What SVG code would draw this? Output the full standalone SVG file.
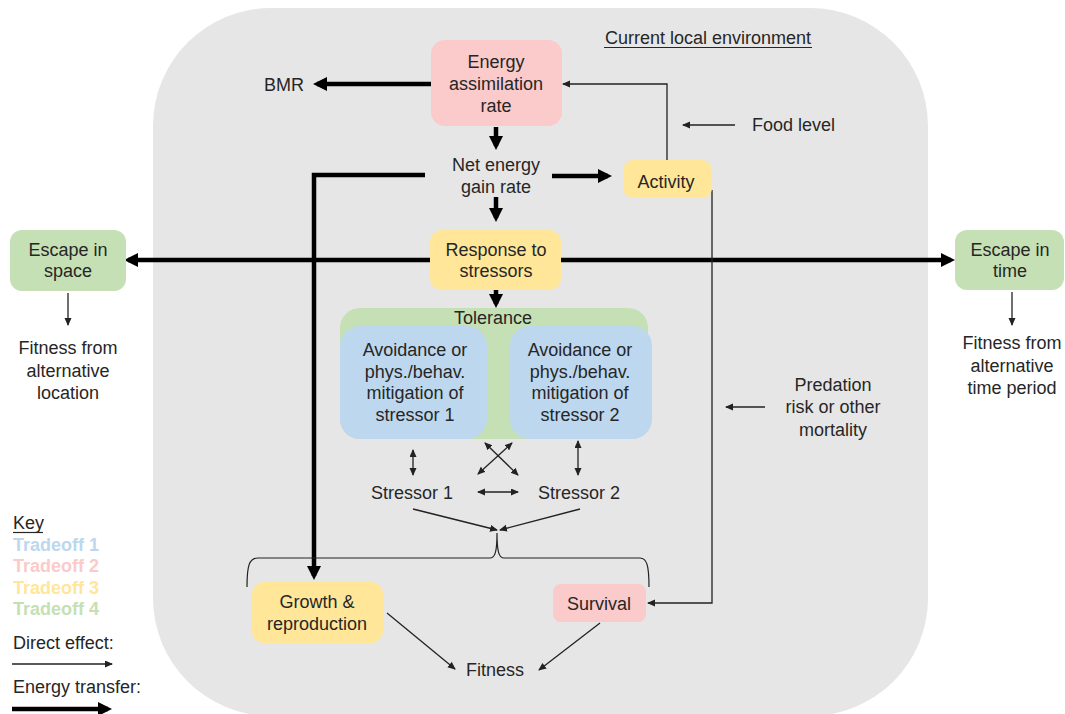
<svg xmlns="http://www.w3.org/2000/svg" width="1065" height="714" viewBox="0 0 1065 714">
<style>
text{font-family:"Liberation Sans",Arial,sans-serif;font-size:18px;fill:#262626;text-anchor:middle}
.l{text-anchor:start}
.b{font-weight:bold}
.thick{stroke:#000;stroke-width:4.5;fill:none;marker-end:url(#ah)}
.thin{stroke:#222;stroke-width:1.3;fill:none;marker-end:url(#at)}
.dbl{stroke:#222;stroke-width:1.3;fill:none;marker-end:url(#at);marker-start:url(#at)}
.pink{fill:#FBCACA}
.yel{fill:#FFE699}
.grn{fill:#C5E0B4}
.blu{fill:#BDD7EE}
</style>
<defs>
<marker id="ah" markerUnits="userSpaceOnUse" markerWidth="16" markerHeight="16" refX="10" refY="7" orient="auto-start-reverse"><path d="M0,0 L14,7 L0,14 z" fill="#000"/></marker>
<marker id="at" markerUnits="userSpaceOnUse" markerWidth="10" markerHeight="10" refX="7" refY="3.5" orient="auto-start-reverse"><path d="M0,0 L8,3.5 L0,7 z" fill="#222"/></marker>
</defs>
<rect x="153" y="8" width="775" height="708" rx="118" ry="118" fill="#E6E6E6"/>
<g id="env-label"><text x="708" y="44">Current  local environment</text><line x1="604" y1="47.5" x2="812" y2="47.5" stroke="#262626" stroke-width="1.2"/></g>

<g id="connectors">
<path class="thick" d="M431,84 L317,84"/>
<path class="thick" d="M496,127 L496,146"/>
<path class="thick" d="M552,176 L608,176"/>
<path class="thick" d="M425,175 L314,175 L314,576"/>
<path class="thick" d="M496,197 L496,218"/>
<path class="thick" d="M430,260 L128,260"/>
<path class="thick" d="M561,260 L951,260"/>
<path class="thick" d="M496,290 L496,304"/>
<path class="thin" d="M667,172 L667,84 L563,84"/>
<path class="thin" d="M735,125 L683,125"/>
<path class="thin" d="M712,190 L712,603 L648,603"/>
<path class="thin" d="M765,407 L726,407"/>
<path class="thin" d="M68,293 L68,325"/>
<path class="thin" d="M1012,292 L1012,325"/>
<path class="dbl" d="M483,388 L510,388"/>
<path class="dbl" d="M413,450 L413,475"/>
<path class="dbl" d="M578,441 L578,475"/>
<path class="dbl" d="M478,474 L512,443"/>
<path class="dbl" d="M485,443 L518,475"/>
<path class="dbl" d="M478,492 L518,492"/>
<path class="thin" d="M413,509 L497,530"/>
<path class="thin" d="M580,509 L500,530"/>
<path d="M247,587 C247,566 249,558 258,558 L490,558 C495,558 497,552 497,533 C497,552 499,558 504,558 L640,558 C647,558 649,566 649,587" stroke="#222" stroke-width="1.2" fill="none"/>
<path class="thin" d="M387,613 L455,669"/>
<path class="thin" d="M600,623 L539,670"/>
</g>

<g id="energy-assimilation"><rect class="pink" x="431" y="40" width="131" height="86" rx="14"/><text x="496" y="68">Energy</text><text x="496" y="90">assimilation</text><text x="496" y="112">rate</text></g>
<g id="bmr"><text x="284" y="91">BMR</text></g>
<g id="net-energy"><text x="496" y="171">Net energy</text><text x="496" y="193">gain rate</text></g>
<g id="activity"><rect class="yel" x="623" y="160" width="89" height="38" rx="10"/><text x="666" y="188">Activity</text></g>
<g id="food-level"><text class="l" x="752" y="131">Food level</text></g>
<g id="response"><rect class="yel" x="430" y="230" width="131" height="60" rx="12"/><text x="496" y="256">Response to</text><text x="496" y="277">stressors</text></g>
<g id="escape-space"><rect class="grn" x="10" y="230" width="116" height="61" rx="12"/><text x="68" y="256">Escape in</text><text x="68" y="277">space</text></g>
<g id="fitness-location"><text x="68" y="354">Fitness from</text><text x="68" y="377">alternative</text><text x="68" y="399">location</text></g>
<g id="escape-time"><rect class="grn" x="955" y="230" width="109" height="60" rx="12"/><text x="1010" y="256">Escape in</text><text x="1010" y="277">time</text></g>
<g id="fitness-time"><text x="1012" y="349">Fitness from</text><text x="1012" y="372">alternative</text><text x="1012" y="394">time period</text></g>
<g id="tolerance"><rect class="grn" x="340" y="308" width="308" height="131" rx="20"/><text x="493" y="324">Tolerance</text></g>
<g id="mitigation-1"><rect class="blu" x="340" y="326" width="147" height="113" rx="20"/><text x="415" y="356">Avoidance or</text><text x="415" y="378">phys./behav.</text><text x="415" y="399">mitigation of</text><text x="415" y="421">stressor 1</text></g>
<g id="mitigation-2"><rect class="blu" x="510" y="326" width="142" height="113" rx="20"/><text x="580" y="356">Avoidance or</text><text x="580" y="378">phys./behav.</text><text x="580" y="399">mitigation of</text><text x="580" y="421">stressor 2</text></g>
<g id="predation"><text x="833" y="391">Predation</text><text x="833" y="413">risk or other</text><text x="833" y="436">mortality</text></g>
<g id="stressor-1"><text x="412" y="499">Stressor 1</text></g>
<g id="stressor-2"><text x="579" y="499">Stressor 2</text></g>
<g id="growth"><rect class="yel" x="252" y="582" width="131" height="61" rx="12"/><text x="317" y="608">Growth &amp;</text><text x="317" y="630">reproduction</text></g>
<g id="survival"><rect class="pink" x="553" y="584" width="93" height="38" rx="8"/><text x="599" y="610">Survival</text></g>
<g id="fitness"><text x="495" y="676">Fitness</text></g>

<g id="key">
<text class="l" x="13" y="529">Key</text><line x1="13" y1="532.5" x2="43" y2="532.5" stroke="#262626" stroke-width="1.2"/>
<text class="l b" x="13" y="551" style="fill:#BDD7EE">Tradeoff 1</text>
<text class="l b" x="13" y="572" style="fill:#FBCACA">Tradeoff 2</text>
<text class="l b" x="13" y="594" style="fill:#FFE699">Tradeoff 3</text>
<text class="l b" x="13" y="615" style="fill:#C5E0B4">Tradeoff 4</text>
<text class="l" x="13" y="649">Direct effect:</text>
<path class="thin" d="M12,664 L112,664"/>
<text class="l" x="13" y="693">Energy transfer:</text>
<path class="thick" d="M12,709 L108,709"/>
</g>
</svg>
